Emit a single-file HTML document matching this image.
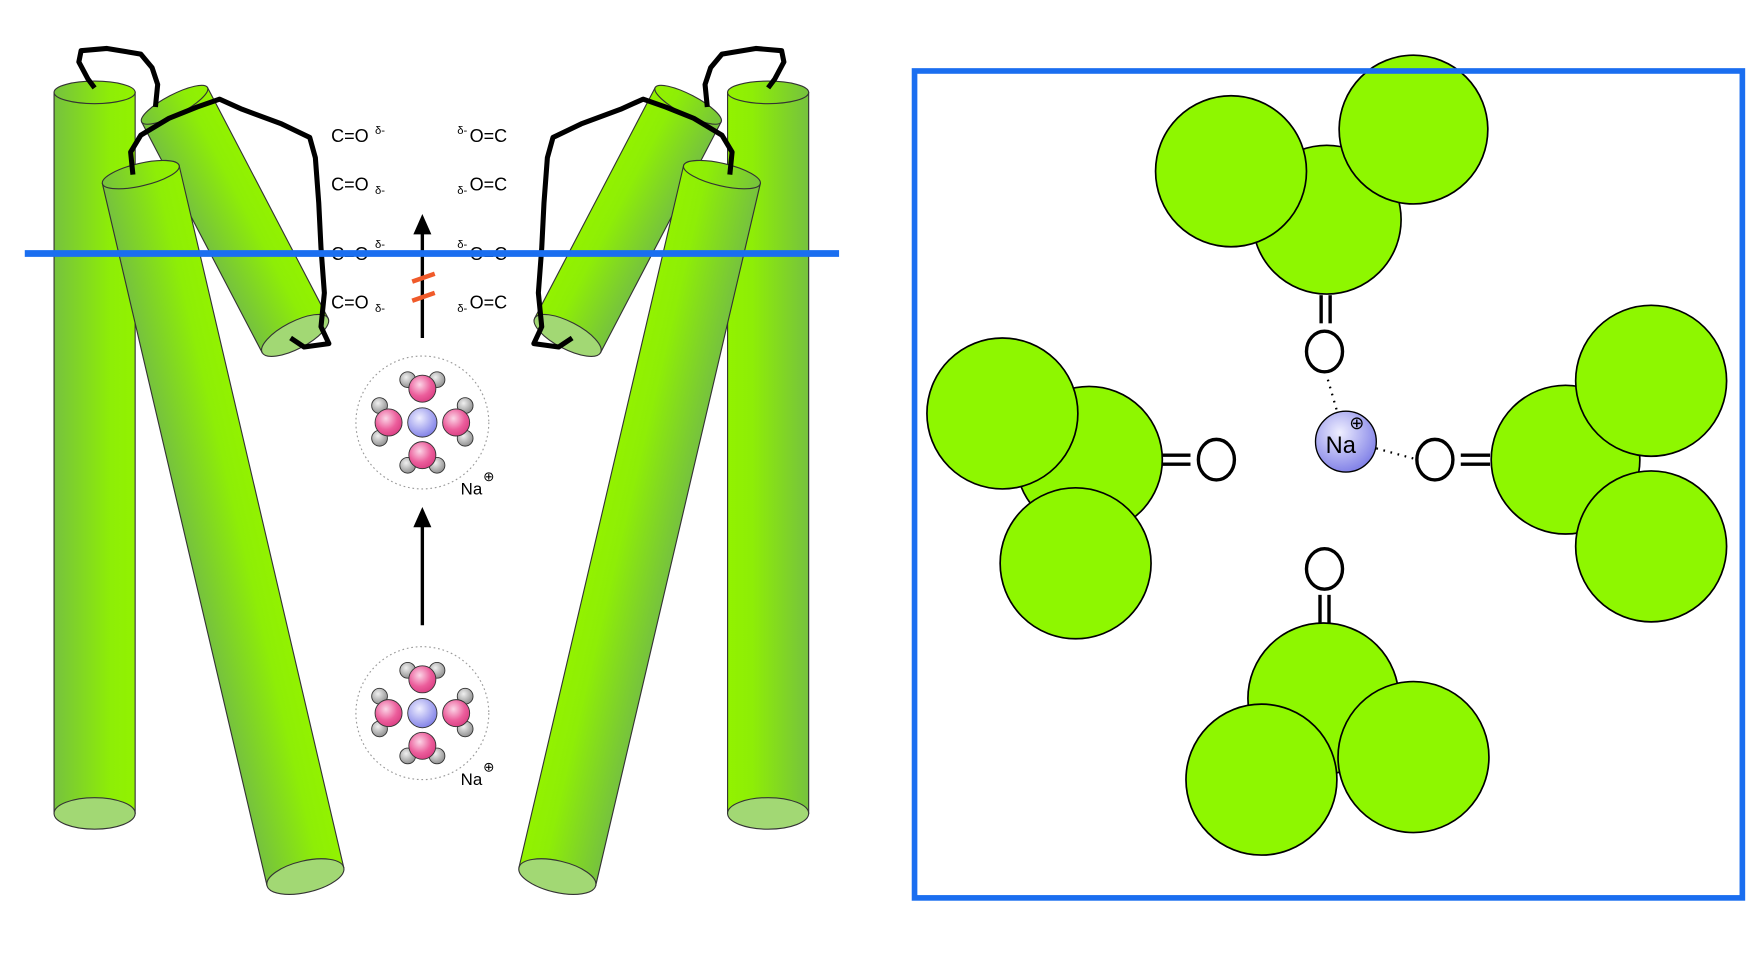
<!DOCTYPE html>
<html><head><meta charset="utf-8"><style>html,body{margin:0;padding:0;background:#fff}svg{display:block}</style></head>
<body>
<svg width="1757" height="970" viewBox="0 0 1560 861" preserveAspectRatio="none" xmlns="http://www.w3.org/2000/svg">
<defs>
<linearGradient id="cg" x1="0" x2="1" y1="0" y2="0">
<stop offset="0" stop-color="#76c23e"/><stop offset="0.7" stop-color="#8eee06"/><stop offset="1" stop-color="#92f200"/>
</linearGradient>
<radialGradient id="pk" cx="0.4" cy="0.35" r="0.7"><stop offset="0" stop-color="#fbd5e6"/><stop offset="0.6" stop-color="#ec5e9c"/><stop offset="1" stop-color="#d93d82"/></radialGradient>
<radialGradient id="gy" cx="0.4" cy="0.35" r="0.7"><stop offset="0" stop-color="#f0f0f0"/><stop offset="1" stop-color="#8a8a8a"/></radialGradient>
<radialGradient id="bl" cx="0.4" cy="0.35" r="0.7"><stop offset="0" stop-color="#eeeeff"/><stop offset="1" stop-color="#7c7ce6"/></radialGradient>
<g id="cyl72">
<rect x="-36" y="0" width="72" height="640" fill="url(#cg)" stroke="#333" stroke-width="1"/>
<ellipse cx="0" cy="640" rx="36" ry="14" fill="#a2d874" stroke="#333" stroke-width="1"/>
<ellipse cx="0" cy="0" rx="36" ry="10" fill="url(#cg)" stroke="#333" stroke-width="1"/>
</g>
<g id="cylS">
<rect x="-33" y="0" width="66" height="231" fill="url(#cg)" stroke="#333" stroke-width="1"/>
<ellipse cx="0" cy="231" rx="33" ry="12" fill="#a2d874" stroke="#333" stroke-width="1"/>
<ellipse cx="0" cy="0" rx="33" ry="9" fill="url(#cg)" stroke="#333" stroke-width="1"/>
</g>
<g id="cylL">
<rect x="-35" y="0" width="70" height="640" fill="url(#cg)" stroke="#333" stroke-width="1"/>
<ellipse cx="0" cy="640" rx="35" ry="14" fill="#a2d874" stroke="#333" stroke-width="1"/>
<ellipse cx="0" cy="0" rx="35" ry="10" fill="url(#cg)" stroke="#333" stroke-width="1"/>
</g>
<g id="half">
<use href="#cylS" transform="translate(155,93) rotate(-27.6)"/>
<use href="#cyl72" transform="translate(84,82)"/>
<use href="#cylL" transform="translate(125,155) rotate(-13.2)"/>
<path d="M84,78 L78,70 L70,55 L72,45 L95,43 L125,48 L135,60 L140,75 L138,95" fill="none" stroke="#000" stroke-width="4.5" stroke-linejoin="round"/>
<path d="M118,155 L116,135 L125,120 L150,105 L175,95 L195,88 L215,97 L250,110 L275,122 L280,140 L283,180 L285,220 L288,260 L285,290 L292,305 L270,308 L258,300" fill="none" stroke="#000" stroke-width="4.5" stroke-linejoin="round"/>
</g>
<g id="water">
<circle cx="0" cy="0" r="59" fill="none" stroke="#999" stroke-width="1" stroke-dasharray="1.5,2.5"/>
<circle cx="-13" cy="-38" r="7" fill="url(#gy)" stroke="#333" stroke-width=".8"/><circle cx="13" cy="-38" r="7" fill="url(#gy)" stroke="#333" stroke-width=".8"/>
<circle cx="0" cy="-30" r="12" fill="url(#pk)" stroke="#333" stroke-width=".8"/>
<circle cx="-13" cy="38" r="7" fill="url(#gy)" stroke="#333" stroke-width=".8"/><circle cx="13" cy="38" r="7" fill="url(#gy)" stroke="#333" stroke-width=".8"/>
<circle cx="0" cy="29" r="12" fill="url(#pk)" stroke="#333" stroke-width=".8"/>
<circle cx="-38" cy="-15" r="7" fill="url(#gy)" stroke="#333" stroke-width=".8"/><circle cx="-38" cy="14" r="7" fill="url(#gy)" stroke="#333" stroke-width=".8"/>
<circle cx="-30" cy="0" r="12" fill="url(#pk)" stroke="#333" stroke-width=".8"/>
<circle cx="38" cy="-15" r="7" fill="url(#gy)" stroke="#333" stroke-width=".8"/><circle cx="38" cy="14" r="7" fill="url(#gy)" stroke="#333" stroke-width=".8"/>
<circle cx="30" cy="0" r="12" fill="url(#pk)" stroke="#333" stroke-width=".8"/>
<circle cx="0" cy="0" r="13" fill="url(#bl)" stroke="#333" stroke-width=".8"/>
<text x="34" y="64" font-family="Liberation Sans, sans-serif" font-size="15">Na</text>
<text x="54" y="52" font-family="Liberation Sans, sans-serif" font-size="12">⊕</text>
</g>
</defs>
<use href="#half"/>
<use href="#half" transform="translate(766,0) scale(-1,1)"/>
<g font-family="Liberation Sans, sans-serif" font-size="16" fill="#000">
<text x="294" y="126">C=O</text><text x="333" y="119" font-size="10">δ-</text>
<text x="294" y="169">C=O</text><text x="333" y="172" font-size="10">δ-</text>
<text x="294" y="231">C=O</text><text x="333" y="220" font-size="10">δ-</text>
<text x="294" y="274">C=O</text><text x="333" y="277" font-size="10">δ-</text>
<text x="417" y="126">O=C</text><text x="406" y="119" font-size="10">δ-</text>
<text x="417" y="169">O=C</text><text x="406" y="172" font-size="10">δ-</text>
<text x="417" y="231">O=C</text><text x="406" y="220" font-size="10">δ-</text>
<text x="417" y="274">O=C</text><text x="406" y="277" font-size="10">δ-</text>
</g>
<line x1="375" y1="300" x2="375" y2="205" stroke="#000" stroke-width="3"/>
<polygon points="375,190 367,208 383,208" fill="#000"/>
<line x1="375" y1="555" x2="375" y2="465" stroke="#000" stroke-width="3"/>
<polygon points="375,450 367,468 383,468" fill="#000"/>
<line x1="366" y1="250" x2="386" y2="243" stroke="#f05a2a" stroke-width="4"/>
<line x1="366" y1="267" x2="386" y2="260" stroke="#f05a2a" stroke-width="4"/>
<use href="#water" transform="translate(375,375)"/>
<use href="#water" transform="translate(375,633)"/>
<line x1="22" y1="225" x2="745" y2="225" stroke="#1a6ef0" stroke-width="6"/>
<g fill="#8ef700" stroke="#000" stroke-width="1.5">
<circle cx="1178" cy="195" r="66"/><circle cx="1093" cy="152" r="67"/><circle cx="1255" cy="115" r="66"/>
<circle cx="967" cy="408" r="65"/><circle cx="890" cy="367" r="67"/><circle cx="955" cy="500" r="67"/>
<circle cx="1390" cy="408" r="66"/><circle cx="1466" cy="338" r="67"/><circle cx="1466" cy="485" r="67"/>
<circle cx="1175" cy="620" r="67"/><circle cx="1120" cy="692" r="67"/><circle cx="1255" cy="672" r="67"/>
</g>
<g fill="none" stroke="#000" stroke-width="3">
<line x1="1173" y1="262" x2="1173" y2="287"/><line x1="1181" y1="262" x2="1181" y2="287"/>
<ellipse cx="1176" cy="312" rx="16" ry="18"/>
<line x1="1032" y1="404" x2="1057" y2="404"/><line x1="1032" y1="412" x2="1057" y2="412"/>
<ellipse cx="1080" cy="408" rx="16" ry="18"/>
<line x1="1297" y1="404" x2="1323" y2="404"/><line x1="1297" y1="412" x2="1323" y2="412"/>
<ellipse cx="1274" cy="408" rx="16" ry="18"/>
<line x1="1172" y1="528" x2="1172" y2="553"/><line x1="1180" y1="528" x2="1180" y2="553"/>
<ellipse cx="1176" cy="505" rx="16" ry="18"/>
<line x1="1179" y1="337" x2="1188" y2="368" stroke-width="2" stroke-dasharray="1.5,5"/>
<line x1="1222" y1="398" x2="1255" y2="407" stroke-width="2" stroke-dasharray="1.5,5"/>
</g>
<circle cx="1195" cy="392" r="27" fill="url(#bl)" stroke="#000" stroke-width="1.2"/>
<text x="1177" y="402" font-family="Liberation Sans, sans-serif" font-size="21">Na</text>
<text x="1198" y="381" font-family="Liberation Sans, sans-serif" font-size="16">⊕</text>
<rect x="812" y="63" width="735" height="734" fill="none" stroke="#1a6ef0" stroke-width="5"/>
</svg>
</body></html>
